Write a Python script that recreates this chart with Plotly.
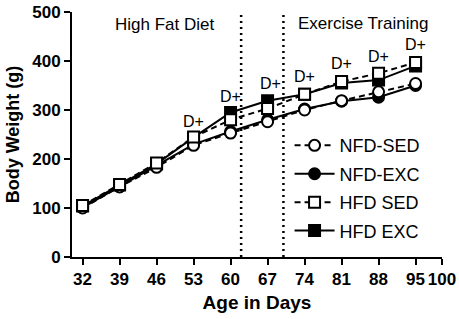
import plotly.graph_objects as go

days = [32, 39, 46, 53, 60, 67, 74, 81, 88, 95]
nfd_sed = [100, 143, 183, 228, 253, 276, 300, 319, 337, 354]
nfd_exc = [101, 144, 186, 230, 256, 280, 302, 318, 326, 350]
hfd_sed = [105, 148, 192, 245, 280, 303, 332, 358, 375, 397]
hfd_exc = [104, 147, 190, 244, 295, 319, 332, 355, 361, 390]

x_ticks = [32, 39, 46, 53, 60, 67, 74, 81, 88, 95, 100]
phase_lines = [62, 70]
dplus_days = [53, 60, 67.5, 74, 81, 88, 95]
dplus_y = [277, 327, 354, 368, 394, 409, 433]

FONT = "Liberation Sans, Arial, sans-serif"

fig = go.Figure()

series = [
    ("NFD-SED", nfd_sed, "circle", "white", "6px,4px"),
    ("NFD-EXC", nfd_exc, "circle", "black", "solid"),
    ("HFD SED", hfd_sed, "square", "white", "6px,4px"),
    ("HFD EXC", hfd_exc, "square", "black", "solid"),
]
order = [1, 3, 0, 2]
for i in order:
    name, vals, sym, fill, dash = series[i]
    fig.add_trace(go.Scatter(
        x=days, y=vals, name=name, mode="lines+markers",
        line=dict(color="black", width=2, dash=dash),
        marker=dict(symbol=sym, size=11, color=fill, line=dict(color="black", width=2)),
        legendrank=i + 1, legendgroup=name,
    ))

for xv in phase_lines:
    fig.add_shape(type="line", x0=xv, x1=xv, xref="x", yref="paper", y0=0, y1=1,
                  line=dict(color="black", width=2.5, dash="2px,4px"))

for xd, yd in zip(dplus_days, dplus_y):
    fig.add_annotation(x=xd, y=yd, text="D+", showarrow=False,
                       font=dict(family=FONT, size=16, color="black"))

fig.add_annotation(x=47.5, y=475, text="High Fat Diet", showarrow=False,
                   font=dict(family=FONT, size=17, color="black"))
fig.add_annotation(x=85, y=476, text="Exercise Training", showarrow=False,
                   font=dict(family=FONT, size=17, color="black"))

fig.update_layout(
    width=459, height=319,
    margin=dict(l=72, r=17, t=12, b=62, autoexpand=False),
    paper_bgcolor="white", plot_bgcolor="white",
    showlegend=True,
    legend=dict(x=0.588, y=0.53, xanchor="left", yanchor="top",
                font=dict(family=FONT, size=18, color="black"),
                bgcolor="rgba(0,0,0,0)", tracegroupgap=2, itemwidth=40,
                traceorder="grouped"),
    font=dict(family=FONT, color="black"),
)
fig.update_xaxes(
    range=[30, 100], tickmode="array", tickvals=x_ticks,
    ticktext=[str(t) for t in x_ticks], automargin=False,
    showgrid=False, zeroline=False, showline=True, linecolor="black", linewidth=2,
    ticks="outside", ticklen=6, tickwidth=2, tickcolor="black",
    tickfont=dict(family=FONT, size=17, color="black", weight="bold"),
    title=dict(text="<b>Age in Days</b>", font=dict(family=FONT, size=19, color="black"), standoff=7),
)
fig.update_yaxes(
    range=[0, 500], dtick=100, automargin=False,
    showgrid=False, zeroline=False, showline=True, linecolor="black", linewidth=2,
    ticks="outside", ticklen=6, tickwidth=2, tickcolor="black",
    tickfont=dict(family=FONT, size=17, color="black", weight="bold"),
    title=dict(text="<b>Body Weight (g)</b>", font=dict(family=FONT, size=18, color="black"), standoff=8),
)

fig.write_html("out.html", config={"displayModeBar": False},
               post_script="document.body.style.margin='0';")
